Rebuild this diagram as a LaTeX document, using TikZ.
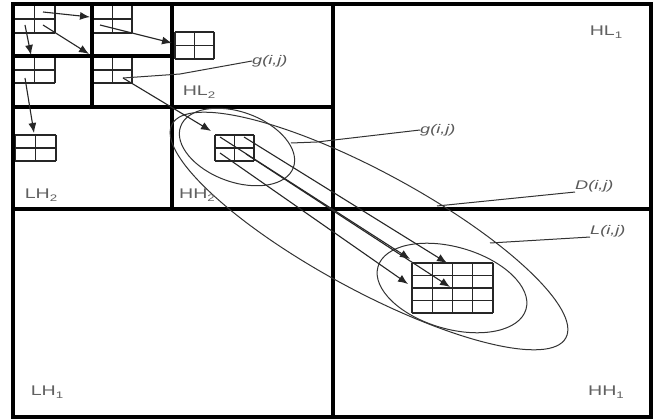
\documentclass[tikz,border=0pt]{standalone}
\usepackage{fontspec}
\setmainfont{Liberation Sans}
\usetikzlibrary{arrows.meta}
\newcommand{\mysub}[1]{\raisebox{-0.45ex}{\fontsize{9.5}{9.5}\selectfont #1}}
\tikzset{
  quad/.style={line width=3.2pt, line cap=rect},
  gridl/.style={line width=1.4pt, draw=black!85},
  curv/.style={line width=1pt, draw=black!80},
  arr/.style={line width=1.1pt, draw=black!85, -{Latex[length=10pt,width=8pt]}},
  lab/.style={font=\fontsize{14}{15}\selectfont, text=black!62, inner sep=0pt},
  glab/.style={font=\fontsize{12.5}{13}\selectfont\itshape, text=black!65, inner sep=0pt},
  pics/cellgrid/.style n args={4}{code={
    \foreach \i in {0,...,#1} \draw[gridl] (\i*#3,0) -- (\i*#3,#2*#4);
    \foreach \j in {0,...,#2} \draw[gridl] (0,\j*#4) -- (#1*#3,\j*#4);
  }}
}
\begin{document}
\begin{tikzpicture}[x=1pt,y=-1pt]
\useasboundingbox (0,0) rectangle (657,420);
\fill[white] (0,0) rectangle (657,420);

% small grids
\pic at (14,5) {cellgrid={2}{2}{20.5}{14}};
\pic at (93,5) {cellgrid={2}{2}{19.5}{14}};
\pic at (14,57) {cellgrid={2}{2}{20.5}{13}};
\pic at (93,57) {cellgrid={2}{2}{19.5}{13}};
\pic at (175,32) {cellgrid={2}{2}{19.5}{13.5}};
\pic at (15,135) {cellgrid={2}{2}{20.5}{13}};
\pic at (215,135) {cellgrid={2}{2}{19.5}{13}};
\pic at (412,263) {cellgrid={4}{4}{20.25}{12.5}};

% quadrant lines
\draw[quad] (13,4) rectangle (651,417);
\draw[quad] (333,4) -- (333,417);
\draw[quad] (13,209) -- (651,209);
\draw[quad] (172,4) -- (172,209);
\draw[quad] (13,107) -- (333,107);
\draw[quad] (92,4) -- (92,107);
\draw[quad] (13,56) -- (172,56);

% ellipses
\draw[curv, rotate around={-28.5:(369,231)}] (369,231) ellipse [x radius=224pt, y radius=59pt];
\draw[curv, rotate around={-20:(237,147)}] (237,147) ellipse [x radius=60pt, y radius=35pt];
\draw[curv, rotate around={-16:(452,288)}] (452,288) ellipse [x radius=77pt, y radius=41pt];

% arrow end points
\coordinate (a1s) at (43,12);  \coordinate (a1e) at (90,17);
\coordinate (a2s) at (43,25);  \coordinate (a2e) at (89,54);
\coordinate (a3s) at (25,25);  \coordinate (a3e) at (31,55);
\coordinate (a4s) at (100,25); \coordinate (a4e) at (172,43);
\coordinate (a5s) at (123,78); \coordinate (a5e) at (211,131);
\coordinate (a6s) at (25,78);  \coordinate (a6e) at (34,133);
\draw[arr] (a1s) -- (a1e);
\draw[arr] (a2s) -- (a2e);
\draw[arr] (a3s) -- (a3e);
\draw[arr] (a4s) -- (a4e);
\draw[arr] (a5s) -- (a5e);
\draw[arr] (a6s) -- (a6e);

\coordinate (b1s) at (220,137); \coordinate (b1e) at (410,259);
\coordinate (b2s) at (244,137); \coordinate (b2e) at (447,263);
\coordinate (b3s) at (220,153); \coordinate (b3e) at (408,284);
\coordinate (b4s) at (246,154); \coordinate (b4e) at (450,287);
\draw[arr] (b1s) -- (b1e);
\draw[arr] (b2s) -- (b2e);
\draw[arr] (b3s) -- (b3e);
\draw[arr] (b4s) -- (b4e);

% labels
\node[lab] (hl1) at (606,32) {\scalebox{1.4}[1]{HL\mysub{1}}};
\node[lab] (lh1) at (47,392) {\scalebox{1.4}[1]{LH\mysub{1}}};
\node[lab] (hh1) at (606,392) {\scalebox{1.4}[1]{HH\mysub{1}}};
\node[lab] (hl2) at (199,92) {\scalebox{1.4}[1]{HL\mysub{2}}};
\node[lab] (lh2) at (41,195) {\scalebox{1.4}[1]{LH\mysub{2}}};
\node[lab] (hh2) at (197,195) {\scalebox{1.4}[1]{HH\mysub{2}}};

\node[glab, anchor=west] (g1) at (252,61) {\scalebox{1.45}[1]{g(i,j)}};
\node[glab, anchor=west] (g2) at (420,130) {\scalebox{1.45}[1]{g(i,j)}};
\node[glab, anchor=west] (dl) at (575,186) {\scalebox{1.45}[1]{D(i,j)}};
\node[glab, anchor=west] (ll) at (590,231) {\scalebox{1.45}[1]{L(i,j)}};

% leaders
\coordinate (g1p) at (123,78);
\coordinate (g2p) at (291,143);
\coordinate (dp) at (437,206);
\coordinate (lp) at (490,243);
\draw[curv] (g1p) -- (180,74) -- (g1.west);
\draw[curv] (g2p) -- (317,142) -- (g2.west);
\draw[curv] (dp) -- (dl.south west);
\draw[curv] (lp) -- (ll.south west);
\end{tikzpicture}
\end{document}
